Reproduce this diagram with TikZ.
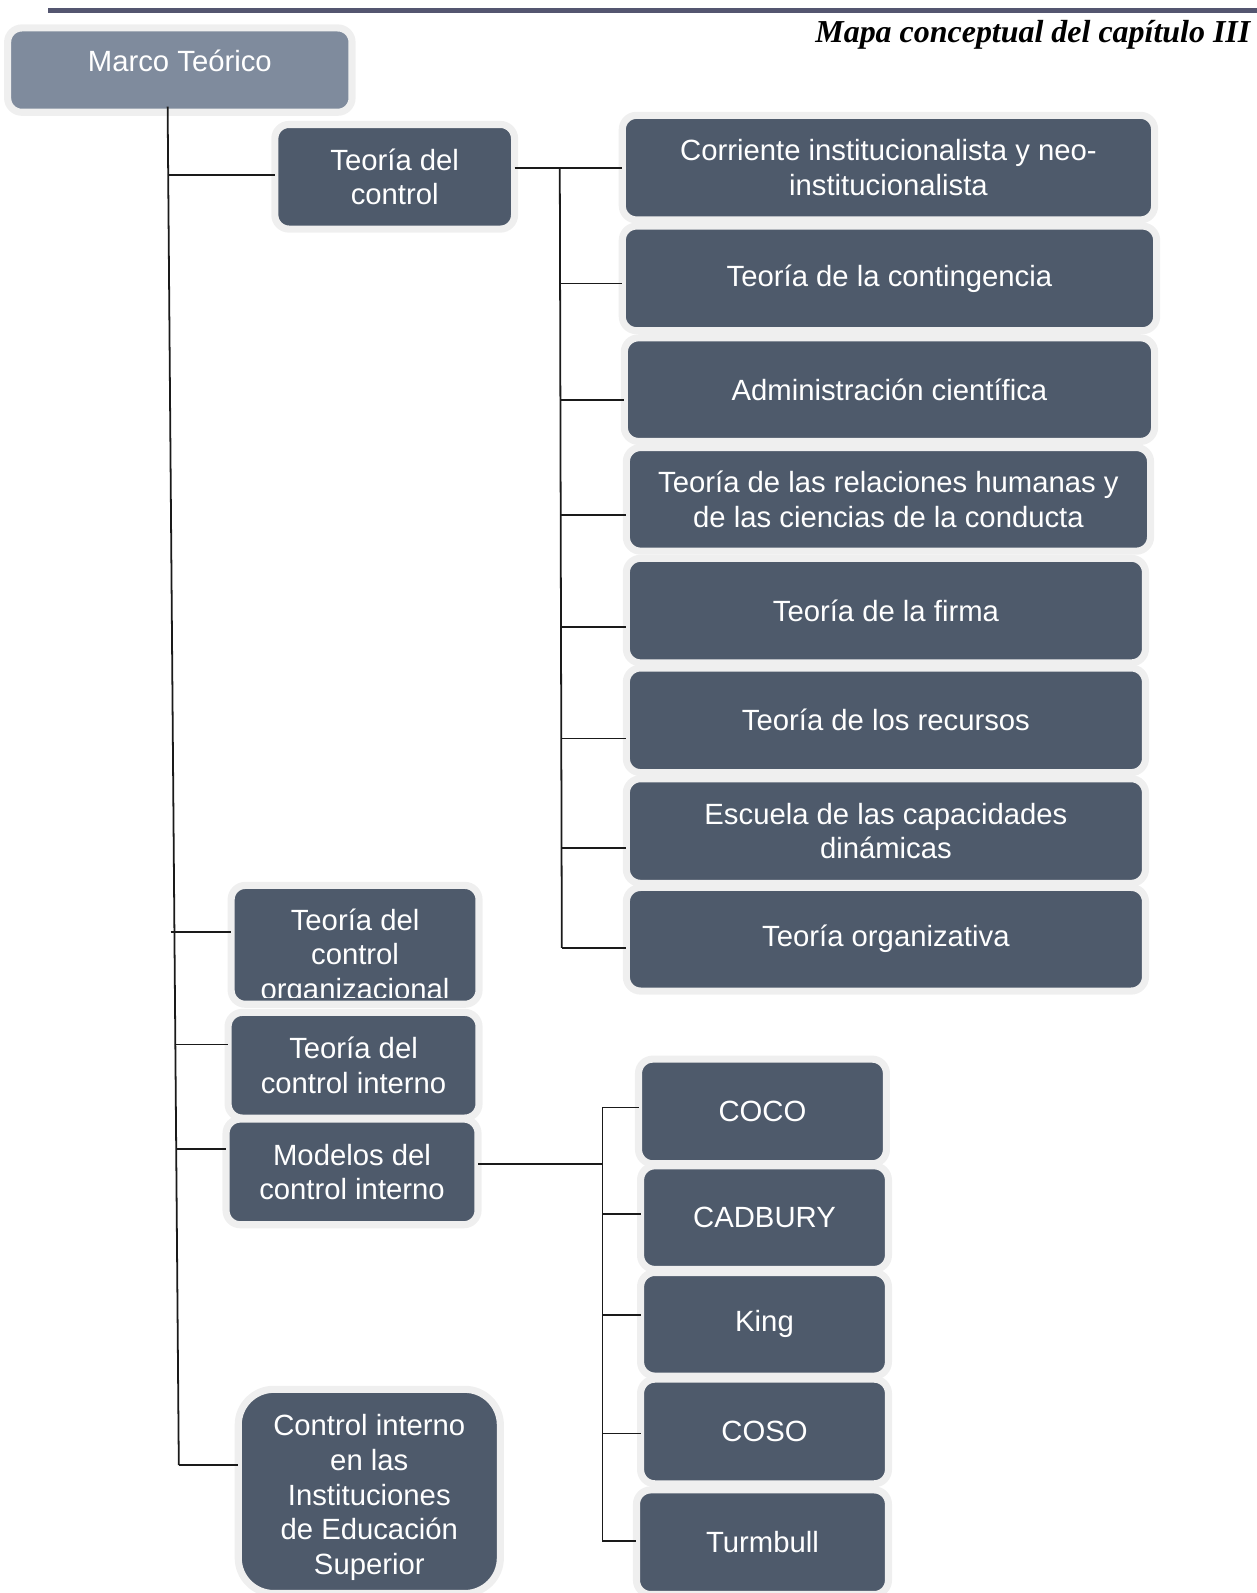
\documentclass[tikz,border=0pt]{standalone}
\usepackage{fontspec}
\setmainfont{Liberation Sans}
\newfontfamily\titlefont{Liberation Serif}
\usetikzlibrary{calc}
\definecolor{boxfill}{HTML}{4E5A6B}
\definecolor{topfill}{HTML}{7F8B9D}
\definecolor{rim}{HTML}{EFEFEF}
\definecolor{barcol}{HTML}{545670}
\definecolor{linecol}{HTML}{1A1A1A}
\begin{document}
\begin{tikzpicture}[x=0.02cm,y=-0.02cm,
  bx/.style 2 args={minimum width={(#1+7)*0.02cm}, minimum height={(#2+7)*0.02cm}},
  card/.style={draw=rim, line width=0.14cm, fill=boxfill, rounded corners=0.28cm, text=white, align=center, inner sep=0pt, outer sep=0pt, font=\fontsize{16.4}{19.4}\selectfont},
  lbl/.style={text=white, align=center, inner sep=0pt, font=\fontsize{16.4}{19.4}\selectfont},
  conn/.style={draw=linecol, line width=0.035cm}]
\useasboundingbox (0,0) rectangle (1237,1568);
\fill[barcol] (47,8) rectangle (1237,13);
\node[anchor=base east, inner sep=0pt, font=\titlefont\bfseries\itshape\fontsize{17.9}{20}\selectfont] (title) at (1231,42) {Mapa conceptual del capítulo III};

% root
\node[card, fill=topfill, bx={332}{76}] (marco) at (177,69) {};
\node[lbl] (marcot) at (177,60) {Marco Teórico};

% level 1
\node[card, bx={229}{96}] (tc) at (388.5,174) {Teoría del\\control};
\node[card, bx={237}{110}] (tco) at (349.5,930) {};
\begin{scope}
\clip (225,870) rectangle (475,982);
\node[lbl] (tcot) at (349.5,942) {Teoría del\\control\\organizacional};
\end{scope}
\node[card, bx={240}{97}] (tci) at (348,1048.5) {Teoría del\\control interno};
\node[card, bx={241}{97}] (mci) at (346.5,1153.5) {Modelos del\\control interno};
\node[card, bx={251}{194}, rounded corners=0.7cm] (ies) at (363.5,1468) {};
\node[lbl] (iest) at (363.5,1474) {Control interno\\en las\\Instituciones\\de Educación\\Superior};

% right column
\node[card, bx={517}{96}] (c1) at (874.5,165) {Corriente institucionalista y neo-\\institucionalista};
\node[card, bx={519}{96}] (c2) at (875.5,274) {Teoría de la contingencia};
\node[card, bx={515}{95}] (c3) at (875.5,383.5) {Administración científica};
\node[card, bx={509}{95}] (c4) at (874.5,491.5) {Teoría de las relaciones humanas y\\de las ciencias de la conducta};
\node[card, bx={504}{96}] (c5) at (872,601) {Teoría de la firma};
\node[card, bx={504}{96}] (c6) at (872,709) {Teoría de los recursos};
\node[card, bx={504}{96}] (c7) at (872,818) {Escuela de las capacidades\\dinámicas};
\node[card, bx={504}{95}] (c8) at (872,924.5) {Teoría organizativa};

% models
\node[card, bx={237}{96}] (coco) at (750.5,1094) {COCO};
\node[card, bx={237}{95}] (cad) at (752.5,1198.5) {CADBURY};
\node[card, bx={237}{95}] (king) at (752.5,1303.5) {King};
\node[card, bx={237}{96}] (coso) at (752.5,1409) {COSO};
\node[card, bx={241}{96}] (turm) at (750.5,1518) {Turmbull};

% trunk
\coordinate (t0) at (165,105);
\coordinate (t5) at (176,1442);
\coordinate (t1) at (165,172);
\coordinate (t2) at (168,917);
\coordinate (t3) at (172,1028);
\coordinate (t4) at (173,1131);
\draw[conn] (t0) -- (t5);
\draw[conn] (t1) -- (t1 -| tc.west);
\draw[conn] (t2) -- (t2 -| tco.west);
\draw[conn] (t3) -- (t3 -| tci.west);
\draw[conn] (t4) -- (t4 -| mci.west);
\draw[conn] (t5) -- (t5 -| ies.west);

% right tree
\coordinate (r0) at (551,165);
\coordinate (r8) at (553,933);
\draw[conn] (tc.east |- c1.west) -- (c1.west);
\draw[conn] (r0) -- (r8);
\coordinate (r2) at (551,279);
\coordinate (r3) at (551,394);
\coordinate (r4) at (552,507);
\coordinate (r5) at (552,617);
\coordinate (r6) at (552,727);
\coordinate (r7) at (553,835);
\draw[conn] (r2) -- (r2 -| c2.west);
\draw[conn] (r3) -- (r3 -| c3.west);
\draw[conn] (r4) -- (r4 -| c4.west);
\draw[conn] (r5) -- (r5 -| c5.west);
\draw[conn] (r6) -- (r6 -| c6.west);
\draw[conn] (r7) -- (r7 -| c7.west);
\draw[conn] (r8) -- (r8 -| c8.west);

% models tree
\coordinate (m0) at (593,1146);
\coordinate (mt) at (593,1090);
\coordinate (mb) at (593,1517);
\coordinate (m2) at (593,1195);
\coordinate (m3) at (593,1294);
\coordinate (m4) at (593,1411);
\draw[conn] (mci.east |- m0) -- (m0);
\draw[conn] (mt) -- (mb);
\draw[conn] (mt) -- (mt -| coco.west);
\draw[conn] (m2) -- (m2 -| cad.west);
\draw[conn] (m3) -- (m3 -| king.west);
\draw[conn] (m4) -- (m4 -| coso.west);
\draw[conn] (mb) -- (mb -| turm.west);
\end{tikzpicture}
\end{document}
